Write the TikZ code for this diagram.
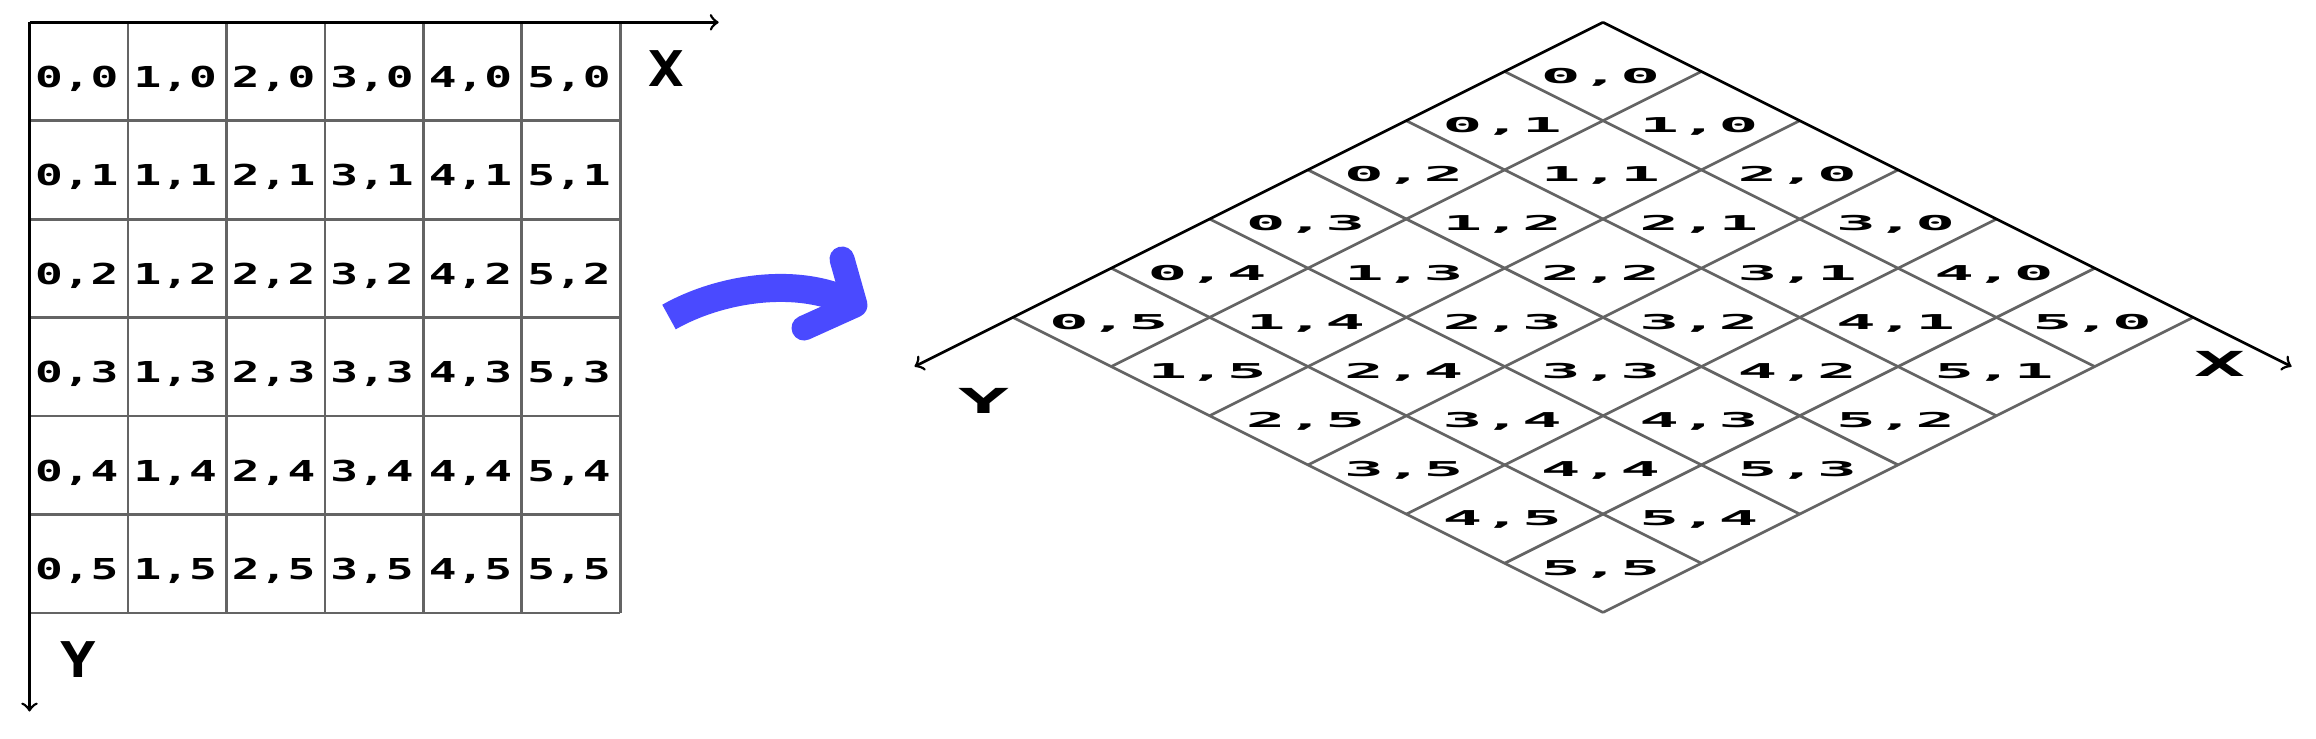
\documentclass[tikz,border=0pt]{standalone}
\usepackage{fontspec}
\newfontfamily\pixfont{DejaVu Sans Mono}
\usepackage{tikz}
\usetikzlibrary{positioning}
\definecolor{gridgray}{RGB}{100,100,100}
\definecolor{penblue}{RGB}{74,74,255}

\begin{document}
\begin{tikzpicture}[x=0.01cm,y=-0.01cm,
	gridline/.style={gridgray,line width=0.027cm},
	axis/.style={black,line width=0.027cm,->},
	cellnum/.style={font=\pixfont\bfseries\fontsize{8.2}{10}\selectfont,inner sep=0pt,anchor=base,xscale=1.6},
	isonum/.style={cellnum,xscale=1.43,yscale=0.71},
	axisname/.style={font=\pixfont\bfseries\fontsize{14}{16}\selectfont,inner sep=0pt,xscale=1.2},
	isoname/.style={axisname,xscale=1.43,yscale=0.7}]
	\useasboundingbox (0,0) rectangle (2316,738);
	\begin{scope}[shift={(29.5,22.3)},x=0.984cm,y=-0.984cm]
		\coordinate (O) at (0,0);
		\coordinate (Xend) at (7,0);
		\coordinate (Yend) at (0,7);
		\foreach \k in {1,...,6} {
			\draw[gridline] (\k,0) -- (\k,6);
			\draw[gridline] (0,\k) -- (6,\k);
		}
		\draw[axis] (O) -- (Xend);
		\draw[axis] (O) -- (Yend);
		\foreach \i in {0,...,5}
			\foreach \j in {0,...,5}
				\node[xshift=-0.02cm,yshift=-0.158cm,cellnum] (f\i\j) at (\i+0.5,\j+0.5) {\i,\j};
		\node[axisname] (X) at (6.47,0.47) {X};
		\node[axisname] (Y) at (0.5,6.47) {Y};
	\end{scope}
	\coordinate (tail) at (669,317);
	\coordinate (tip) at (855,305);
	\draw[penblue,line width=0.28cm] (tail) .. controls (720,288) and (800,275) .. (tip);
	\draw[penblue,line width=0.25cm,line cap=round,line join=round] (842,259) -- (tip) -- (804,328);
	\begin{scope}[shift={(1603,22.3)},x={(0.983cm,-0.4915cm)},y={(-0.983cm,-0.4915cm)}]
		\coordinate (Oiso) at (0,0);
		\coordinate (Xiso) at (7,0);
		\coordinate (Yiso) at (0,7);
		\foreach \k in {1,...,6} {
			\draw[gridline] (\k,0) -- (\k,6);
			\draw[gridline] (0,\k) -- (6,\k);
		}
		\draw[axis] (Oiso) -- (Xiso);
		\draw[axis] (Oiso) -- (Yiso);
		\foreach \i in {0,...,5}
			\foreach \j in {0,...,5}
				\node[xshift=-0.025cm,yshift=-0.118cm,isonum] (r\i\j) at (\i+0.5,\j+0.5) {\i,\j};
		\node[isoname] (Xi) at (6.61,0.34) {X};
		\node[isoname] (Yi) at (0.70,6.99) {Y};
	\end{scope}
\end{tikzpicture}
\end{document}
